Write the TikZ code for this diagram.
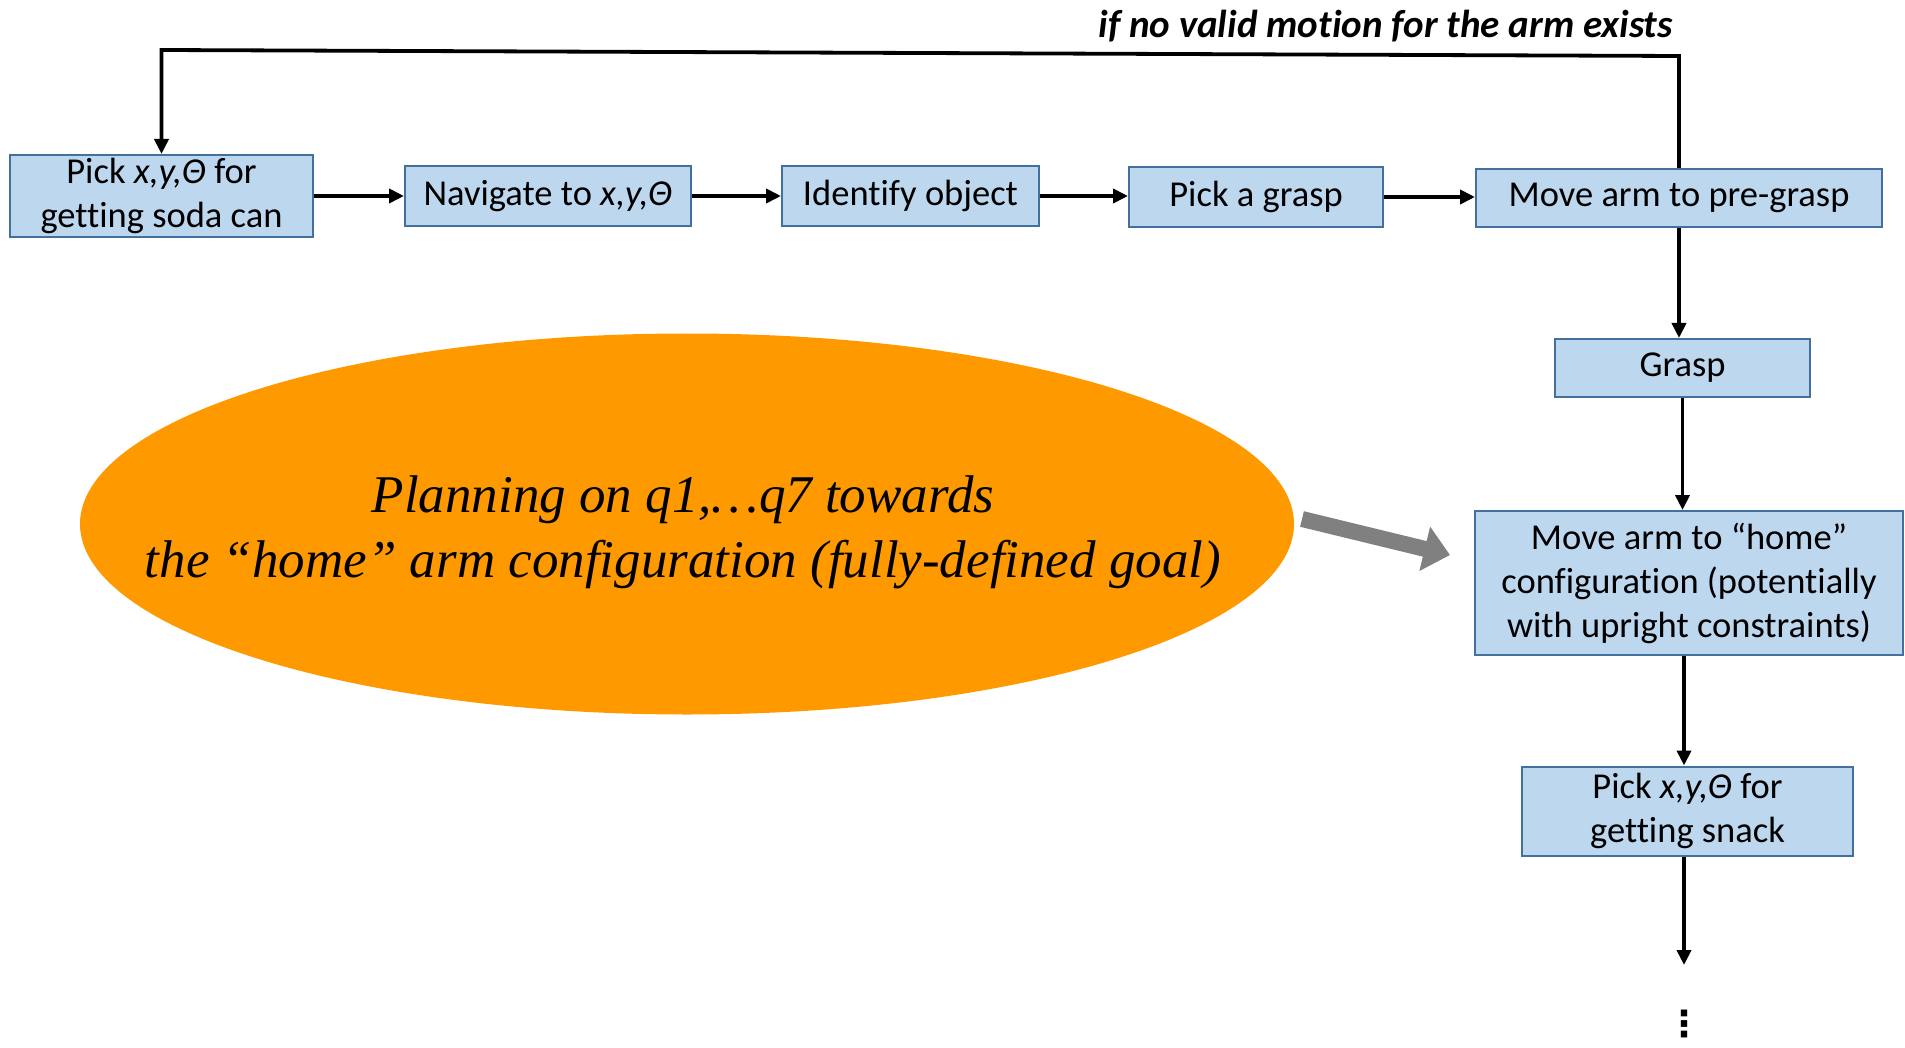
\documentclass[tikz,border=0pt]{standalone}
\usepackage{fontspec}
\setmainfont{Carlito}[Ligatures=NoCommon]
\newfontfamily\tms{Liberation Serif}
\newfontfamily\djv{DejaVu Sans}
\usetikzlibrary{arrows.meta,shapes.geometric,calc}
\definecolor{boxfill}{RGB}{189,215,238}
\definecolor{boxline}{RGB}{65,113,156}
\definecolor{ellfill}{RGB}{255,153,0}
\definecolor{garrow}{RGB}{128,128,128}
\tikzset{
  flowbox/.style={draw=boxline, line width=2pt, fill=boxfill, align=center, inner sep=0pt,
    font=\fontsize{36.5}{44}\selectfont},
  arr/.style={draw=black, line width=3.8pt, -{Triangle[length=15pt,width=14pt]}},
}
\begin{document}
\begin{tikzpicture}[x=1pt,y=-1pt]
\useasboundingbox (0,0) rectangle (1905,1048);
% boxes
\node[flowbox, minimum width=303pt, minimum height=82pt] (b1) at (161.5,196) {Pick \textit{x,y,Θ} for\\getting soda can};
\node[flowbox, minimum width=286pt, minimum height=60pt] (b2) at (548,196) {Navigate to \textit{x,y,Θ}};
\node[flowbox, minimum width=257pt, minimum height=60pt] (b3) at (910.5,196) {Identify object};
\node[flowbox, minimum width=254pt, minimum height=60pt] (b4) at (1256,197) {Pick a grasp};
\node[flowbox, minimum width=406pt, minimum height=58pt] (b5) at (1679,198) {Move arm to pre-grasp};
\node[flowbox, minimum width=255pt, minimum height=58pt] (grasp) at (1682.5,368) {Grasp};
\node[flowbox, minimum width=428pt, minimum height=144pt] (home) at (1689,583) {Move arm to “home”\\configuration (potentially\\with upright constraints)};
\node[flowbox, minimum width=331pt, minimum height=89pt] (snack) at (1687.5,811) {Pick \textit{x,y,Θ} for\\getting snack};
% ellipse
\node[ellipse, fill=ellfill, minimum width=1214pt, minimum height=381pt, inner sep=0pt] (ell) at (687,524) {};
\node[align=center, font=\tms\itshape\fontsize{53}{65}\selectfont] (elltext) at (683,532) {Planning on q1,…q7 towards\\the “home” arm configuration (fully-defined goal)};
% horizontal arrows
\draw[arr] (b1.east |- b2.west) -- (b2.west);
\draw[arr] (b2.east) -- (b3.west);
\draw[arr] (b3.east) -- (b4.west |- b3.east);
\draw[arr] (b4.east) -- (b5.west |- b4.east);
% vertical arrows
\draw[arr] (b5.south) -- (b5.south |- grasp.north);
\draw[arr] (grasp.south) -- (grasp.south |- home.north);
\coordinate (hx) at (1684,0);
\draw[arr] (hx |- home.south) -- (hx |- snack.north);
\coordinate (endc) at (1684,965);
\draw[arr] (hx |- snack.south) -- (endc);
\node[font=\djv\bfseries\fontsize{36}{36}\selectfont, inner sep=0pt] (dots) at (1684,1024) {⋮};
% loop back
\coordinate (tr) at (1679,56);
\coordinate (tl) at (161.5,50);
\draw[arr] (b5.north) -- (tr) -- (tl) -- (b1.north);
\node[font=\bfseries\itshape\fontsize{39}{44}\selectfont, anchor=base east, inner sep=0pt] (cond) at (1673,38) {if no valid motion for the arm exists};
% gray arrow
\coordinate (ga) at (1302,519);
\coordinate (gb) at (1450,555);
\draw[garrow, line width=16pt, -{Triangle[length=26pt,width=44pt]}] (ga) -- (gb);
\end{tikzpicture}
\end{document}
